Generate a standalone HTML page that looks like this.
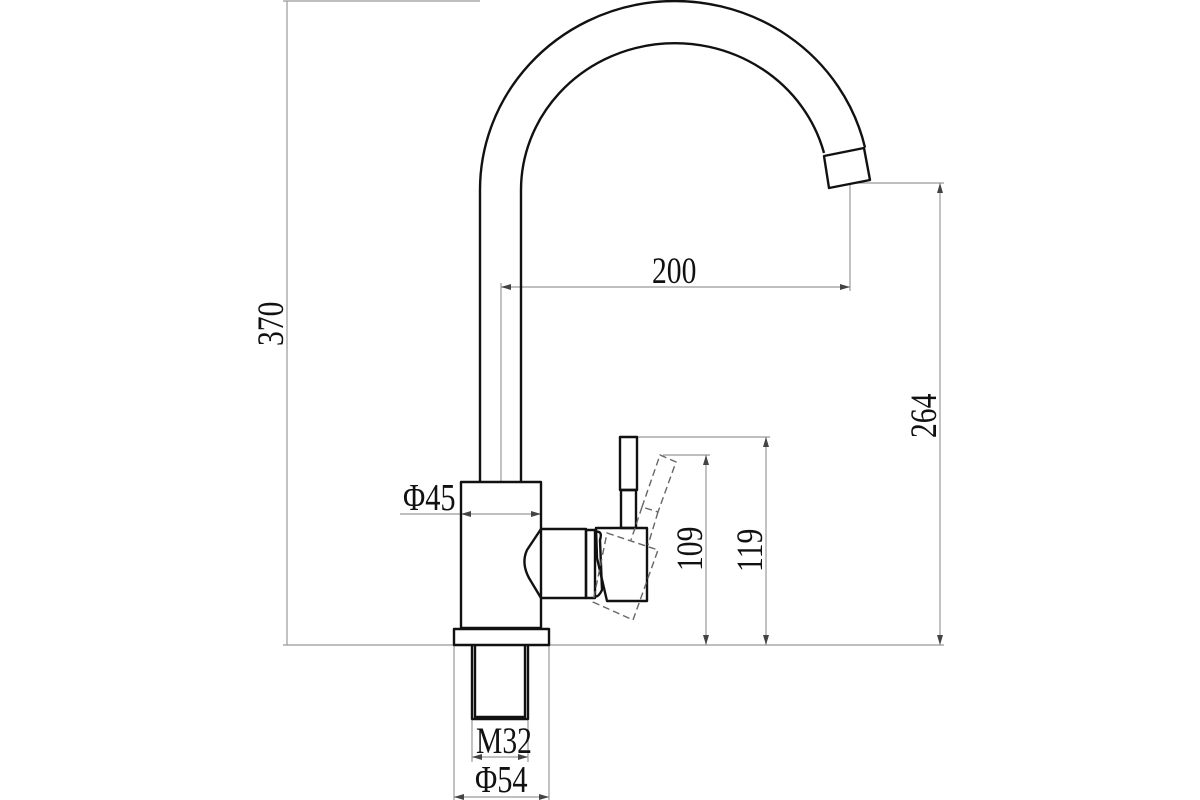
<!DOCTYPE html>
<html><head><meta charset="utf-8"><style>
html,body{margin:0;padding:0;background:#fff;}
svg{display:block}
text{font-family:"Liberation Serif",serif;font-size:37px;fill:#111;}
</style></head><body>
<svg width="1200" height="800" viewBox="0 0 1200 800" xmlns="http://www.w3.org/2000/svg">
<defs>
<marker id="a" viewBox="0 0 10 6" refX="10" refY="3" markerWidth="10" markerHeight="6" markerUnits="userSpaceOnUse" orient="auto-start-reverse"><path d="M0,0 L10,3 L0,6 Z" fill="#444"/></marker>
</defs>
<g stroke="#999" stroke-width="1.2" fill="none">
<line x1="283" y1="1" x2="480" y2="1"/>
<line x1="287" y1="1" x2="287" y2="645"/>
<line x1="283" y1="645" x2="944" y2="645"/>
<line x1="852" y1="183" x2="944" y2="183"/>
<line x1="940" y1="183" x2="940" y2="645" marker-start="url(#a)" marker-end="url(#a)"/>
<line x1="850" y1="183" x2="850" y2="291"/>
<line x1="501" y1="283" x2="501" y2="482"/>
<line x1="501" y1="287" x2="850" y2="287" marker-start="url(#a)" marker-end="url(#a)"/>
<line x1="638" y1="437" x2="770" y2="437"/>
<line x1="766" y1="437" x2="766" y2="645" marker-start="url(#a)" marker-end="url(#a)"/>
<line x1="663" y1="455" x2="710" y2="455"/>
<line x1="706" y1="455" x2="706" y2="645" marker-start="url(#a)" marker-end="url(#a)"/>
<line x1="400" y1="514" x2="461" y2="514"/>
<line x1="461" y1="514" x2="541" y2="514" marker-start="url(#a)" marker-end="url(#a)"/>
<line x1="472" y1="719" x2="472" y2="762"/>
<line x1="528" y1="719" x2="528" y2="762"/>
<line x1="472" y1="757" x2="528" y2="757" marker-start="url(#a)" marker-end="url(#a)"/>
<line x1="454" y1="645" x2="454" y2="800"/>
<line x1="549" y1="645" x2="549" y2="800"/>
<line x1="454" y1="797" x2="549" y2="797" marker-start="url(#a)" marker-end="url(#a)"/>
</g>
<g stroke="#111" stroke-width="2.4" fill="none" stroke-linejoin="round">
<path d="M480,482 L480,190 A195,189 0 0 1 865,147.5"/>
<path d="M521,482 L521,190 A154,147 0 0 1 824,153"/>
<path d="M824,156 L864,148 L870,180 L829,188 Z"/>
<rect x="461" y="482" width="80" height="146"/>
<rect x="454" y="629" width="95" height="16"/>
<path d="M472,645 V719 H528 V645 M475,645 V717 H525 V645"/>
<path d="M541,529 H586 V598 H541 L529,578 Q521,563 527,550 Z"/>
<rect x="586" y="530" width="9" height="68"/>
<path d="M595,532 Q603,530 600,540 L602,590 Q598,598 595,596"/>
<path d="M596,528 H647 V601 H607 L597,558 Z"/>
<rect x="620" y="437" width="17" height="53"/>
<rect x="621" y="490" width="15" height="38"/>
</g>
<g stroke="#666" stroke-width="1.4" fill="none" stroke-dasharray="7,4">
<path d="M607,533 L658,550 L633,620 L593,602 Z"/>
<path d="M642,507 L660,455 L676,462 L658,512 Z"/>
<path d="M642,507 L631,540 M658,512 L648,545"/>
</g>
<text transform="translate(283,346) rotate(-90) scale(0.8,1)">370</text>
<text transform="translate(936,438) rotate(-90) scale(0.8,1)">264</text>
<text transform="translate(762,572) rotate(-90) scale(0.8,1)">119</text>
<text transform="translate(702,571) rotate(-90) scale(0.8,1)">109</text>
<text transform="translate(652,283) scale(0.8,1)">200</text>
<text transform="translate(403,510) scale(0.8,1)" style="font-size:38px">Φ45</text>
<text transform="translate(476,753) scale(0.8,1)">M32</text>
<text transform="translate(475,792) scale(0.8,1)" style="font-size:38px">Φ54</text>
</svg>
</body></html>
